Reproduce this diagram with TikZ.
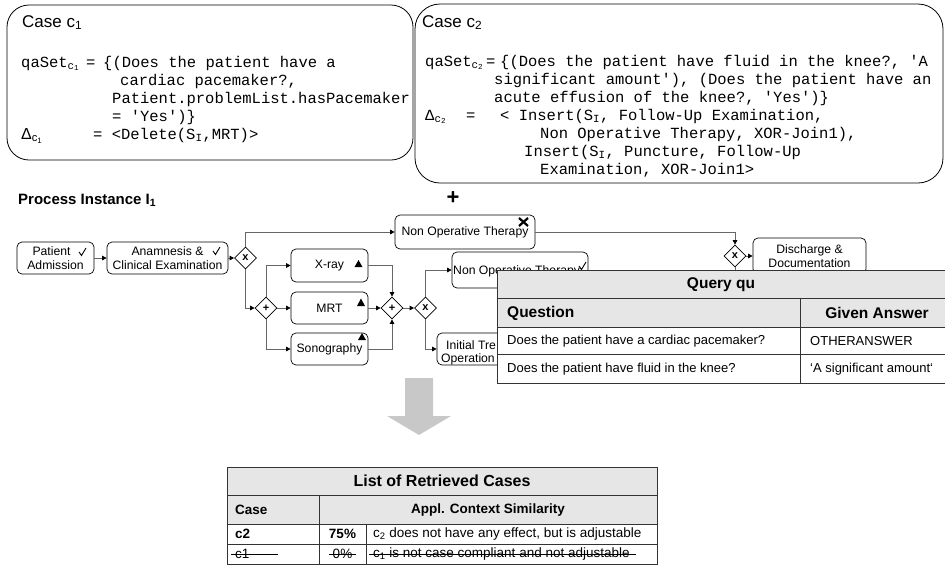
\documentclass[tikz,border=0pt]{standalone}
\usepackage{fontspec}
\setmainfont{Liberation Sans}
\setmonofont{Liberation Mono}
\usetikzlibrary{arrows.meta,shapes.geometric}
\definecolor{lgray}{RGB}{230,230,230}
\definecolor{agray}{RGB}{200,200,200}
\begin{document}
\begin{tikzpicture}[x=1pt,y=-1pt,
  casebox/.style={draw, line width=0.8pt, rounded corners=#1},
  mono/.style={anchor=base west, inner sep=0pt, font=\fontsize{15.5}{18}\selectfont\ttfamily},
  lbl/.style={anchor=base west, inner sep=0pt},
  task/.style={draw, line width=0.7pt, rounded corners=5pt, align=center, inner sep=0pt,
    font=\fontsize{12.2}{14}\selectfont},
  gw/.style={draw, shape=diamond, aspect=1, minimum size=22pt, inner sep=0pt, line width=0.7pt,
    font=\fontsize{11}{11}\selectfont\bfseries},
  conn/.style={draw=black!60, line width=0.7pt, -{Triangle[length=4.5pt,width=4.5pt,color=black]}},
  tline/.style={draw=black!80, line width=0.8pt},
  hdr/.style={inner sep=0pt, font=\fontsize{15.5}{18}\selectfont\bfseries},
  body/.style={inner sep=0pt, font=\fontsize{13}{15}\selectfont},
  strike/.style={draw, line width=0.8pt}]
\useasboundingbox (0,0) rectangle (945,566);

% ---------- case boxes ----------
\node[casebox=22pt, minimum width=406pt, minimum height=155pt] (c1box) at (210,82.5) {};
\node[casebox=25pt, minimum width=528pt, minimum height=179pt] (c2box) at (679,93.5) {};

\node[lbl, font=\fontsize{17}{20}\selectfont] (c1t) at (22,27) {Case c\textsubscript{1}};
\node[mono] (q1a) at (21,67) {qaSet\textsubscript{c\textsubscript{1}}};
\node[mono] (q1b) at (86,67) {=};
\node[mono] (q1c) at (103,67) {\{(Does the patient have a};
\node[mono] (q1d) at (120,85) {cardiac pacemaker?,};
\node[mono] (q1e) at (112,103) {Patient.problemList.hasPacemaker};
\node[mono] (q1f) at (112,121) {= \textquotesingle Yes\textquotesingle)\}};
\node[lbl, font=\fontsize{16}{18}\selectfont] (d1) at (21,139) {Δ\textsubscript{c\textsubscript{1}}};
\node[mono] (q1g) at (93,139) {= <Delete(S\textsubscript{I},MRT)>};

\node[lbl, font=\fontsize{17}{20}\selectfont] (c2t) at (422,27) {Case c\textsubscript{2}};
\node[mono] (q2a) at (425,66) {qaSet\textsubscript{c\textsubscript{2}}};
\node[mono] (q2b) at (486,66) {=};
\node[mono] (q2c) at (500,66) {\{(Does the patient have fluid in the knee?, \textquotesingle A};
\node[mono] (q2d) at (494,84) {significant amount\textquotesingle), (Does the patient have an};
\node[mono] (q2e) at (494,102) {acute effusion of the knee?, \textquotesingle Yes\textquotesingle)\}};
\node[mono] (d2) at (425,120) {Δ\textsubscript{c\textsubscript{2}}};
\node[mono] (q2f) at (466,120) {=};
\node[mono] (q2g) at (500,120) {< Insert(S\textsubscript{I}, Follow-Up Examination,};
\node[mono] (q2h) at (540,138) {Non Operative Therapy, XOR-Join1),};
\node[mono] (q2i) at (524,156) {Insert(S\textsubscript{I}, Puncture, Follow-Up};
\node[mono] (q2j) at (540,174) {Examination, XOR-Join1>};

% ---------- process instance ----------
\node[lbl, font=\fontsize{15}{18}\selectfont\bfseries] (pi) at (18,204) {Process Instance I\textsubscript{1}};
\node[inner sep=0pt, font=\fontsize{22}{22}\selectfont\bfseries] (plus) at (453,198) {+};

\node[task, minimum width=77pt, minimum height=32pt] (pa) at (55.5,258) {Patient\hspace*{8pt}\\Admission};
\node[task, minimum width=121pt, minimum height=32pt] (an) at (167.5,258) {Anamnesis \&\\Clinical Examination};
\node[gw] (g1) at (245.5,258) {x};
\node[task, minimum width=140pt, minimum height=34pt] (not1) at (465,232) {Non Operative Therapy};
\node[gw] (g2) at (266,308) {+};
\node[task, minimum width=77pt, minimum height=33pt] (xray) at (329.5,265.5) {X-ray};
\node[task, minimum width=77pt, minimum height=32pt] (mrt) at (329.5,308) {MRT};
\node[task, minimum width=77pt, minimum height=32pt] (sono) at (329.5,349) {Sonography};
\node[gw] (g3) at (392,308) {+};
\node[gw] (g4) at (425.5,308) {x};
\node[task, minimum width=136pt, minimum height=36pt] (not2) at (520,270) {};
\node[lbl, font=\fontsize{12.2}{14}\selectfont] (not2l) at (453,274.5) {Non Operative Therapy};
\node[task, minimum width=123pt, minimum height=32pt] (init) at (498.5,349) {};
\node[lbl, font=\fontsize{12.2}{14}\selectfont] (init1) at (446,349) {Initial Tre};
\node[lbl, font=\fontsize{12.2}{14}\selectfont] (init2) at (441,362) {Operation};
\node[gw] (g5) at (735,256) {x};
\node[task, minimum width=113pt, minimum height=36pt] (dis) at (809.5,256) {Discharge \&\\Documentation};
\coordinate (g5end) at (735,276);

% markers
\draw[line width=0.9pt] (79,252) -- (81.5,255.5) -- (86,248);
\draw[line width=0.9pt] (213,251) -- (215.5,254.5) -- (220,247);
\draw[line width=0.9pt] (579,266) -- (581.5,269.5) -- (586,262);
\draw[line width=2.2pt] (519,218) -- (528,226) (528,218) -- (519,226);
\fill (354.5,267) -- (362.5,267) -- (358.5,260) -- cycle;
\fill (357,306) -- (365,306) -- (361,298.5) -- cycle;
\fill (358,340) -- (366,340) -- (362,333) -- cycle;

% connectors
\draw[conn] (pa) -- (an);
\draw[conn] (an) -- (g1);
\draw[conn] (g1.north) |- (not1.west);
\draw[conn] (g1.south) |- (g2.west);
\draw[conn] (g2.north) |- (xray.west);
\draw[conn] (g2) -- (mrt);
\draw[conn] (g2.south) |- (sono.west);
\draw[conn] (xray.east) -| (g3.north);
\draw[conn] (mrt) -- (g3);
\draw[conn] (sono.east) -| (g3.south);
\draw[conn] (g3) -- (g4);
\draw[conn] (g4.north) |- (not2.west);
\draw[conn] (g4.south) |- (init.west);
\draw[conn] (not1.east) -| (g5.north);
\draw[conn] (g5) -- (dis);
\draw[draw=black!60, line width=0.7pt] (g5.south) -- (g5end);

% ---------- query table ----------
\fill[lgray] (497,270) rectangle (950,327);
\fill[white] (497,327) rectangle (950,383);
\draw[tline] (497,270) rectangle (950,383);
\draw[tline] (497,298) -- (950,298) (497,327) -- (950,327) (497,354) -- (950,354) (800,298) -- (800,383);
\node[hdr] (qt) at (721,285) {Query qu};
\node[hdr, anchor=west] (qq) at (507,313) {Question};
\node[hdr] (qa) at (877,313) {Given Answer};
\node[body, anchor=west] (qr1) at (507,341) {Does the patient have a cardiac pacemaker?};
\node[body, anchor=west] (ar1) at (810,341) {OTHERANSWER};
\node[body, anchor=west] (qr2) at (507,369) {Does the patient have fluid in the knee?};
\node[body, anchor=west] (ar2) at (810,369) {‘A significant amount‘};

% ---------- gray arrow ----------
\fill[agray] (405,378) -- (433,378) -- (433,416) -- (451,416) -- (419,435) -- (387,416) -- (405,416) -- cycle;

% ---------- retrieved cases ----------
\fill[lgray] (227,467) rectangle (657,524);
\draw[tline] (227,467) rectangle (657,564);
\draw[tline] (227,495) -- (657,495) (227,524) -- (657,524) (227,544) -- (657,544)
  (319,495) -- (319,564) (366,524) -- (366,564);
\node[inner sep=0pt, font=\fontsize{16}{18}\selectfont\bfseries] (rt) at (442,481) {List of Retrieved Cases};
\node[inner sep=0pt, anchor=west, font=\fontsize{13.5}{16}\selectfont\bfseries] (rc) at (235,509.5) {Case};
\node[inner sep=0pt, font=\fontsize{13.5}{16}\selectfont\bfseries] (ra) at (488,509.5) {Appl. Context Similarity};
\node[inner sep=0pt, anchor=west, font=\fontsize{13.5}{16}\selectfont\bfseries] (r3a) at (235,534) {c2};
\node[inner sep=0pt, font=\fontsize{13.5}{16}\selectfont\bfseries] (r3b) at (342.5,534) {75\%};
\node[inner sep=0pt, anchor=west, font=\fontsize{13.5}{16}\selectfont] (r3c) at (373,534) {c\textsubscript{2} does not have any effect, but is adjustable};
\node[inner sep=0pt, anchor=west, font=\fontsize{13.5}{16}\selectfont] (r4a) at (235,554) {c1};
\node[inner sep=0pt, font=\fontsize{13.5}{16}\selectfont] (r4b) at (342.5,554) {0\%};
\node[inner sep=0pt, anchor=west, font=\fontsize{13.5}{16}\selectfont] (r4c) at (373,554) {c\textsubscript{1} is not case compliant and not adjustable};
\draw[strike] ([xshift=-4pt]r4a.west) -- ([xshift=28pt]r4a.east);
\draw[strike] ([xshift=-3.5pt]r4b.west) -- ([xshift=3.5pt]r4b.east);
\draw[strike] ([xshift=-4pt]r4c.west) -- ([xshift=6pt]r4c.east);
\end{tikzpicture}
\end{document}
